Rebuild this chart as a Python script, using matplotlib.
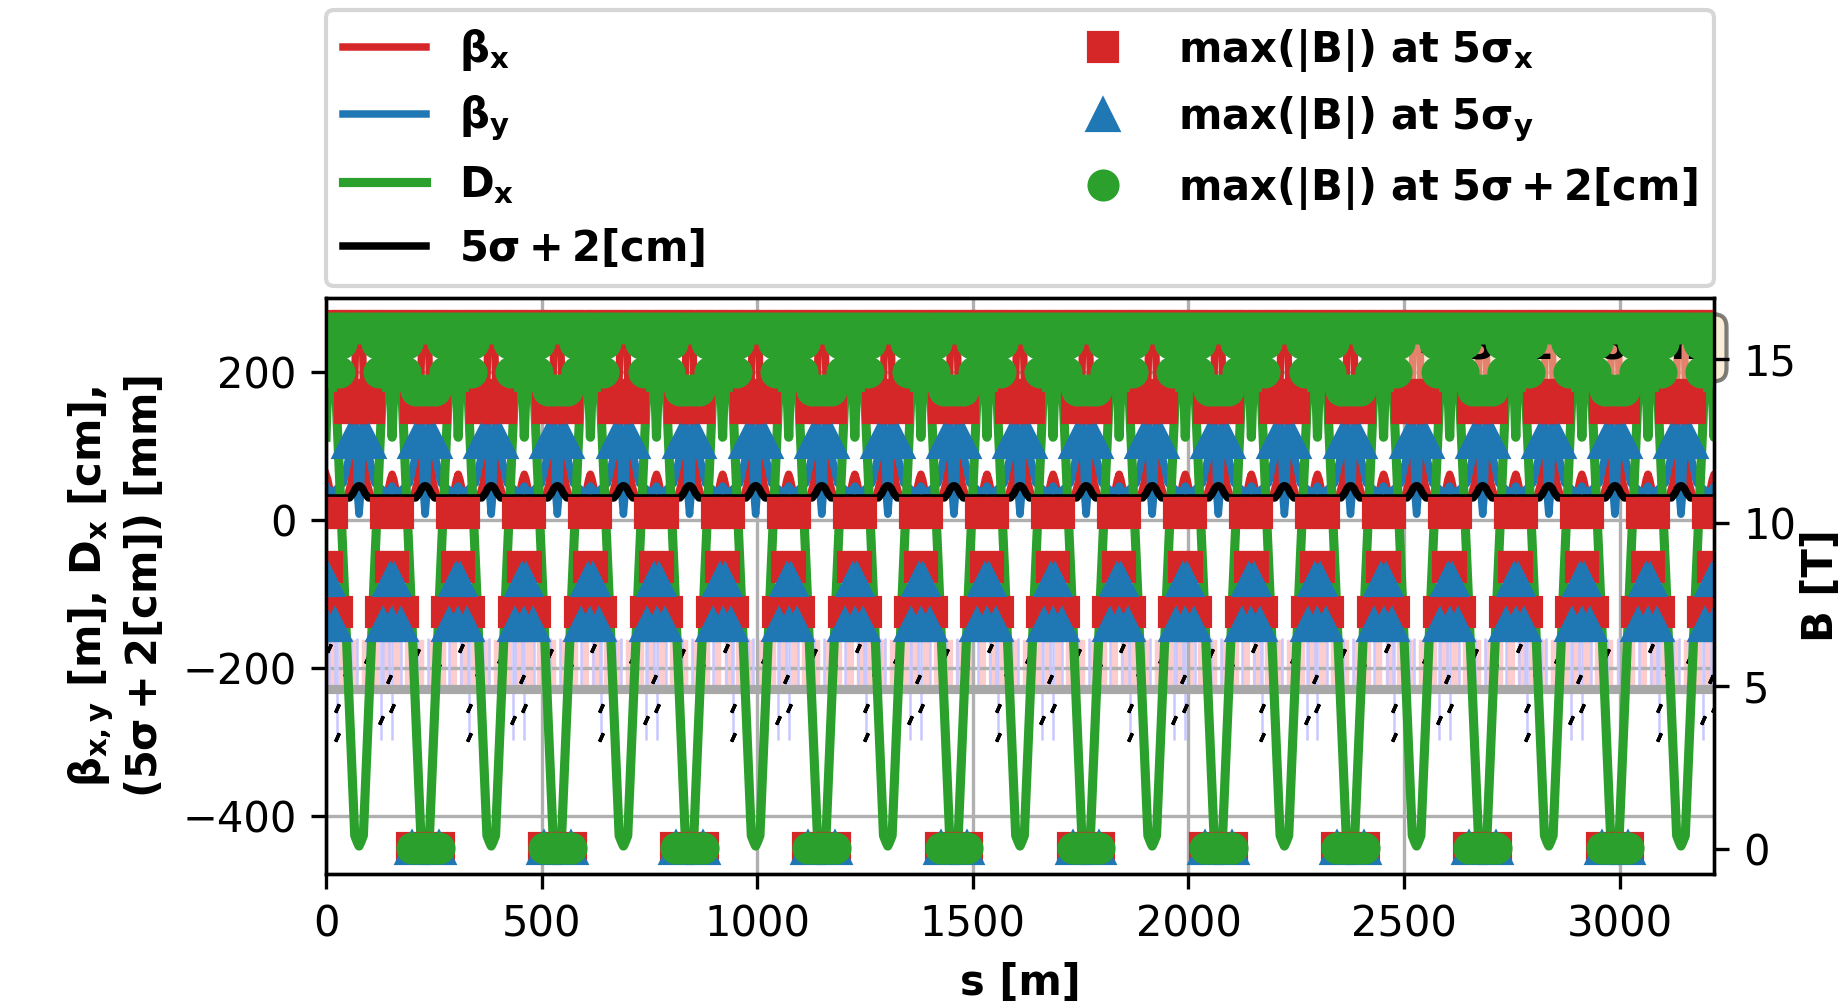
import matplotlib
matplotlib.use("Agg")
import matplotlib.pyplot as plt
import numpy as np

# ring made of 21 half cells, the pattern below is one full cell (2 half cells)
ring_length = 3218.8      # [m]
cell_length = 306.56      # [m]
n_cells = 11

# optics over one cell: s offset [m] from the cell start (mid point)
dx_s = [0, 5, 10, 18, 26, 41.6, 66.6, 72.6, 76.6, 80.6, 86.6, 111.6, 127.3, 135.3, 143.3,
        148.3, 153.3, 158.3, 163.3, 171.3, 179.3, 194.9, 219.9, 229.9, 239.9, 264.9, 280.6,
        288.6, 296.6, 301.6, 306.6]
dx_v = [112, 200, 262, 240, 130, -79, -426, -435, -440, -435, -426, -79, 130, 240, 262,
        200, 112, 200, 262, 240, 130, -79, -426, -442, -426, -79, 130, 240, 262, 200, 112]

bx_s = [0, 4, 10, 30, 50, 58, 62, 65, 68, 76.6, 85.2, 88.2, 91.2, 95.2, 103.2, 123.3, 143.3,
        149.3, 153.3, 157.3, 163.3, 183.3, 203.3, 211.3, 215.3, 218.3, 221.3, 229.9, 238.5,
        241.5, 244.5, 248.5, 256.5, 276.6, 296.6, 302.6, 306.6]
bx_v = [62, 55, 38, 30, 33, 50, 90, 150, 225, 264, 225, 150, 90, 50, 33, 30, 38,
        55, 62, 55, 38, 30, 33, 50, 90, 150, 225, 264, 225,
        150, 90, 50, 33, 30, 38, 55, 62]

by_s = [0, 8, 20, 40, 55, 62.6, 67.6, 70.6, 73.6, 76.6, 79.6, 82.6, 85.6, 90.6, 98.6, 113.3,
        133.3, 145.3, 153.3, 161.3, 173.3, 193.3, 208.3, 215.9, 220.9, 223.9, 226.9, 229.9,
        232.9, 235.9, 238.9, 243.9, 251.9, 266.6, 286.6, 298.6, 306.6]
by_v = [46, 38, 40, 50, 90, 135, 130, 90, 30, 8, 30, 90, 130, 135, 90, 50,
        40, 38, 46, 38, 40, 50, 90, 135, 130, 90, 30, 8,
        30, 90, 130, 135, 90, 50, 40, 38, 46]

env_s = [0, 54.6, 62.6, 68.6, 73.6, 76.6, 79.6, 84.6, 90.6, 98.6, 153.3, 207.9, 215.9, 221.9,
         226.9, 229.9, 232.9, 237.9, 243.9, 251.9, 306.6]
env_v = [30, 30, 36, 43, 46, 46.5, 46, 43, 36, 30, 30, 30, 36, 43,
         46, 46.5, 46, 43, 36, 30, 30]

# max|B| of the elements in one cell: s offset [m], field [T]
sqx_s = [26, 51, 102, 128, 179, 204, 255, 281,
         54.6, 61.6, 68.6, 84.6, 91.6, 98.6,
         207.9, 221.9, 237.9, 251.9, 198.9, 260.9,
         -14, 14, 139.3, 167.3, -3, 3, 150.3, 156.3,
         -25, 0, 25, 128.3, 153.3, 178.3]
sqx_b = [16.0, 16.0, 16.0, 16.0, 16.0, 16.0, 16.0, 16.0,
         13.5, 13.9, 13.5, 13.5, 13.9, 13.5,
         13.5, 13.5, 13.5, 13.5, 0.05, 0.05,
         10.3, 10.3, 10.3, 10.3, 8.65, 8.65, 8.65, 8.65,
         7.25, 7.25, 7.25, 7.25, 7.25, 7.25]

sqy_s = [53.6, 99.6, 206.9, 252.9, 198.9, 260.9,
         -5, 5, 148.3, 158.3,
         -22, 0, 20, 131.3, 153.3, 173.3]
sqy_b = [12.45, 12.45, 12.45, 12.45, 0.05, 0.05,
         8.25, 8.25, 8.25, 8.25,
         6.85, 6.85, 6.85, 6.85, 6.85, 6.85]

sq2_s = [0, 13, 26, 38, 51, 64, 77, 89, 102, 115, 128, 140, 153, 166, 179, 192, 204, 217,
         230, 243, 255, 268, 281, 294,
         -35, -12, 12, 35, 118.3, 141.3, 165.3, 188.3,
         -30, -10, 10, 30, 123.3, 143.3, 163.3, 183.3,
         207.9, 221.9, 237.9, 251.9,
         198.9, 214.4, 229.9, 245.4, 260.9]
sq2_b = [15.95] * 24 + [15.5] * 8 + [14.6] * 8 + [14.05] * 4 + [0.05] * 5

# element layout drawn under the optics
dip_s = [12, 38, 63, 90, 115, 141, 165, 191, 217, 243, 268, 294]
quad_s = [7, 22, 58, 71, 96, 131, 147, 175, 212, 236, 259, 285]
sext_s = [25, 128, 153.3]
label_s = [7, 47, 96, 147, 212, 259, 25, 25, 128, 153.3]
label_y = [-172, -205, -188, -215, -180, -200, -253, -293, -270, -253]


def around_ring(offsets, values=None):
    # repeat one cell pattern along the ring
    s = np.concatenate([np.asarray(offsets, dtype=float) + k * cell_length
                        for k in range(n_cells)])
    if values is None:
        return s
    return s, np.tile(values, n_cells)


fig = plt.figure(figsize=(6.15, 3.36), dpi=300)
ax = fig.add_axes([0.1767, 0.1329, 0.7523, 0.5715])
ax2 = ax.twinx()

# layout
ax.bar(around_ring(dip_s), 69, bottom=-228, width=24, color="#fdcccc",
       edgecolor="white", linewidth=0.6)
ax.vlines(around_ring(quad_s), -228, -159, color="#c8c8ff", linewidth=0.6)
ax.vlines(around_ring(sext_s), -297, -159, color="#c8c8ff", linewidth=0.6)
ls, ly = around_ring(label_s, label_y)
ax.plot(ls, ly, ls="none", marker=(2, 2, -25), color="black", markersize=2.2, mew=0.8)
ax.axhline(-228, color="#a8a8a8", linewidth=2.2)

# optics
s, v = around_ring(bx_s, bx_v)
l_bx, = ax.plot(s, v, color="tab:red", lw=1.8)
s, v = around_ring(by_s, by_v)
l_by, = ax.plot(s, v, color="tab:blue", lw=1.8)
s, v = around_ring(dx_s, dx_v)
l_dx, = ax.plot(s, v, color="tab:green", lw=2.2)
s, v = around_ring(env_s, env_v)
l_env, = ax.plot(s, v, color="black", lw=1.8)

ax.text(1.0, 0.95, "L = 3218.80 m", transform=ax.transAxes, ha="right", va="top",
        fontweight="bold", bbox=dict(boxstyle="round", facecolor="wheat", alpha=0.5))

# fields
s, b = around_ring(sqx_s, sqx_b)
m_x, = ax2.plot(s, b, ls="none", marker="s", color="tab:red", markersize=6.5)
s, b = around_ring(sqy_s, sqy_b)
m_y, = ax2.plot(s, b, ls="none", marker="^", color="tab:blue", markersize=7)
s, b = around_ring(sq2_s, sq2_b)
m_2, = ax2.plot(s, b, ls="none", marker="o", color="tab:green", markersize=6.7)

ax.set_xlim(0, ring_length)
ax.set_ylim(-477.8, 300)
ax2.set_ylim(-0.755, 16.87)
ax.set_xticks([0, 500, 1000, 1500, 2000, 2500, 3000])
ax.set_yticks([-400, -200, 0, 200])
ax2.set_yticks([0, 5, 10, 15])
ax.grid(True)

ax.set_xlabel("s [m]", fontweight="bold")
ax.set_ylabel(r"$\mathbf{\beta_{x,y}}$ [m], $\mathbf{D_x}$ [cm]," "\n"
              r"($\mathbf{5\sigma+2[cm]}$) [mm]", fontweight="bold")
ax2.set_ylabel("B [T]", fontweight="bold", labelpad=1)

labels = [r"$\mathbf{\beta_x}$", r"$\mathbf{\beta_y}$", r"$\mathbf{D_x}$",
          r"$\mathbf{5\sigma+2[cm]}$",
          r"$\mathbf{max(|B|)\ at\ 5\sigma_x}$", r"$\mathbf{max(|B|)\ at\ 5\sigma_y}$",
          r"$\mathbf{max(|B|)\ at\ 5\sigma+2[cm]}$"]
ax2.legend([l_bx, l_by, l_dx, l_env, m_x, m_y, m_2], labels, loc="lower left",
           bbox_to_anchor=(0, 1.02, 1, 0.2), mode="expand", ncol=2, borderaxespad=0,
           prop={"weight": "bold", "size": 10}, labelspacing=0.5)

fig.savefig("out.png", dpi=300)
